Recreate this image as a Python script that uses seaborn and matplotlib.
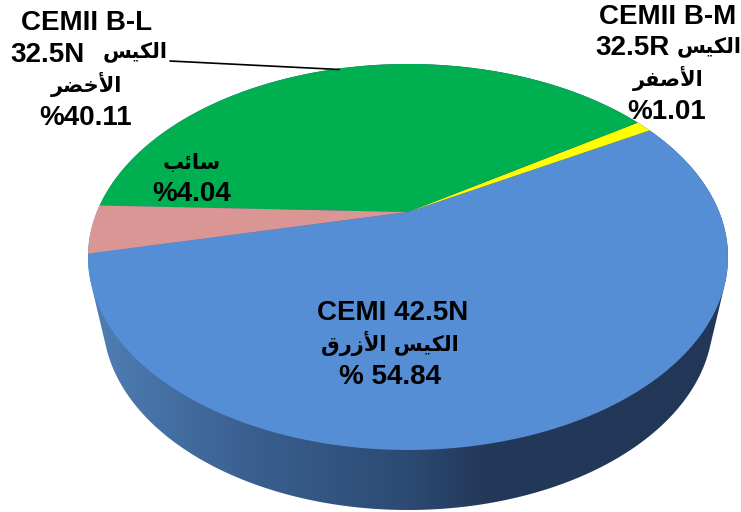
import numpy as np
import matplotlib
matplotlib.use("Agg")
import matplotlib.pyplot as plt
from matplotlib.colors import LinearSegmentedColormap
from matplotlib.patches import Polygon
import seaborn as sns

# shares in drawing order, clockwise from the left edge
categories = ["CEMI 42.5N", "CEMII B-M 32.5R", "CEMII B-L 32.5N", "other"]
shares = [54.84, 1.01, 40.11, 4.04]
colors = ["#558ed5", "#ffff00", "#00b050", "#d99694"]

sns.set_theme(style="white")
plt.rcParams["font.family"] = ["Liberation Sans", "DejaVu Sans"]

# matplotlib does not shape arabic, so pick the joined forms by hand
FORMS = {
    "ا": (0xFE8D, 0xFE8E), "أ": (0xFE83, 0xFE84), "ر": (0xFEAD, 0xFEAE), "ز": (0xFEAF, 0xFEB0),
    "ل": (0xFEDD, 0xFEDE, 0xFEDF, 0xFEE0), "ك": (0xFED9, 0xFEDA, 0xFEDB, 0xFEDC),
    "ي": (0xFEF1, 0xFEF2, 0xFEF3, 0xFEF4), "س": (0xFEB1, 0xFEB2, 0xFEB3, 0xFEB4),
    "خ": (0xFEA5, 0xFEA6, 0xFEA7, 0xFEA8), "ض": (0xFEBD, 0xFEBE, 0xFEBF, 0xFEC0),
    "ص": (0xFEB9, 0xFEBA, 0xFEBB, 0xFEBC), "ف": (0xFED1, 0xFED2, 0xFED3, 0xFED4),
    "ق": (0xFED5, 0xFED6, 0xFED7, 0xFED8), "ئ": (0xFE89, 0xFE8A, 0xFE8B, 0xFE8C),
    "ب": (0xFE8F, 0xFE90, 0xFE91, 0xFE92),
}


def joins_next(ch):
    return ch in FORMS and len(FORMS[ch]) == 4


def shape(word):
    word = word.replace("لأ", "\ufef7")
    out = []
    for i, ch in enumerate(word):
        if ch not in FORMS:
            out.append(ch)
            continue
        before = i > 0 and joins_next(word[i - 1])
        after = i < len(word) - 1 and joins_next(ch) and word[i + 1] in FORMS
        form = FORMS[ch]
        if before and after:
            out.append(chr(form[3]))
        elif after:
            out.append(chr(form[2]))
        elif before:
            out.append(chr(form[1]))
        else:
            out.append(chr(form[0]))
    return "".join(reversed(out))


# top face of the disc, and the apex which sits above its centre (perspective)
cx, cy, rx, ry = 408, 257, 320, 193
apex_y = 212
tilt = (apex_y - cy) / ry
start = 167.5


def rim(deg):
    t = np.radians(deg)
    d = 1 + tilt * np.sin(t)
    x = np.cos(t) * np.sqrt(1 - tilt ** 2) / d
    y = (np.sin(t) + tilt) / d
    return cx + rx * x, cy + ry * y


fig, ax = plt.subplots(figsize=(7.41, 5.12), dpi=100)
ax.set_position([0, 0, 1, 1])

# side wall: hull of the top rim and the smaller lower rim
t = np.linspace(0, 2 * np.pi, 721)
pts = np.r_[np.c_[cx + rx * np.cos(t), cy + ry * np.sin(t)],
            np.c_[cx + 305 * np.cos(t), 320 + 190 * np.sin(t)]]
pts = sorted(map(tuple, pts))


def half(points):
    h = []
    for p in points:
        while len(h) > 1 and (h[-1][0] - h[-2][0]) * (p[1] - h[-2][1]) - (h[-1][1] - h[-2][1]) * (p[0] - h[-2][0]) <= 0:
            h.pop()
        h.append(p)
    return h[:-1]


hull = half(pts) + half(pts[::-1])
wall = Polygon(hull, closed=True, fc="none", ec="none")
ax.add_patch(wall)
side_cmap = LinearSegmentedColormap.from_list(
    "side", [(0, "#4f7fb5"), (0.25, "#3a6090"), (0.5, "#2c4a73"), (0.62, "#24395a"), (1, "#223757")])
img = ax.imshow(np.linspace(0, 1, 400)[None, :], cmap=side_cmap, extent=[88, 728, 512, 0], aspect="auto")
img.set_clip_path(wall)

# slices, each one swept from its share
angle = start
for share, color in zip(shares, colors):
    sweep = share / sum(shares) * 360
    arc = np.linspace(angle, angle - sweep, max(int(sweep * 2), 3))
    xs, ys = rim(arc)
    ax.add_patch(Polygon(np.c_[np.r_[cx, xs], np.r_[apex_y, ys]], closed=True, fc=color, ec="none"))
    angle -= sweep

ax.plot([170, 339], [61, 69.5], color="black", lw=1.2)

latin = dict(ha="center", va="center", color="black", fontsize=20, fontweight="bold", family="Liberation Sans")
arabic = dict(ha="center", va="center", color="black", fontsize=15, fontweight="bold", family="DejaVu Sans")

ax.text(87, 23, "CEMII B-L", **latin)
ax.text(47, 55, "32.5N", **latin)
ax.text(135, 52, shape("الكيس"), **arabic)
ax.text(87, 84, shape("الأخضر"), **arabic)
ax.text(86, 118, "%40.11", **latin)

ax.text(192, 163, shape("سائب"), **arabic)
ax.text(192, 194, "%4.04", **latin)

ax.text(668, 17, "CEMII B-M", **latin)
ax.text(632, 48, "32.5R", **latin)
ax.text(709, 47, shape("الكيس"), **arabic)
ax.text(668, 78, shape("الأصفر"), **arabic)
ax.text(667, 112, "%1.01", **latin)

ax.text(393, 313, "CEMI 42.5N", **latin)
ax.text(390, 343, shape("الكيس الأزرق"), **arabic)
ax.text(390, 377, "% 54.84", **latin)

ax.set_xlim(0, 741)
ax.set_ylim(512, 0)
ax.axis("off")
fig.savefig("out.png", dpi=100)
